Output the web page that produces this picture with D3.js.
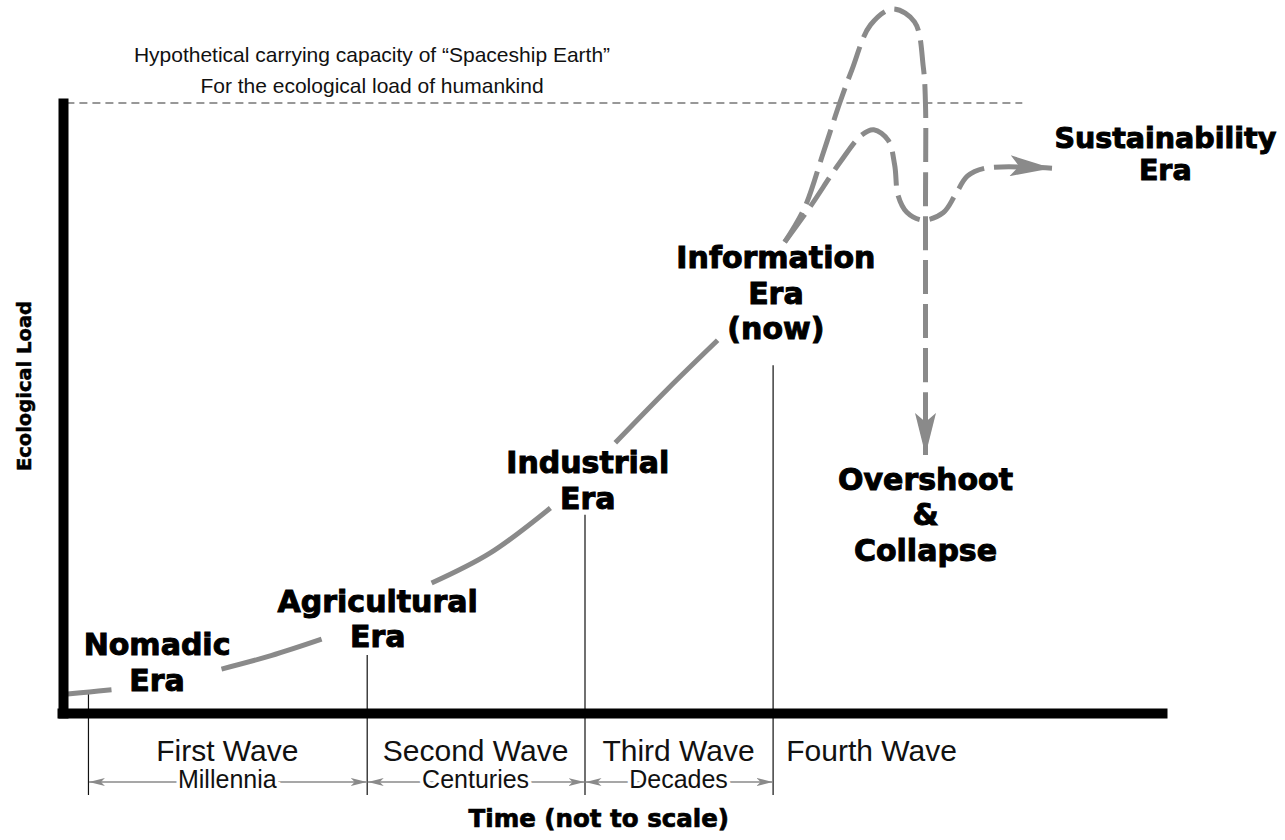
<!DOCTYPE html>
<html>
<head>
<meta charset="utf-8">
<script src="https://cdn.jsdelivr.net/npm/d3@7"></script>
<style>
  body { margin: 0; background: #fff; }
</style>
</head>
<body>
<div class="canvas"></div>
<script>
// time runs 0..100 (not to scale), ecological load 0..100 (100 = carrying capacity)
const capacity = 100;
const capacityEnd = 87.3;

// solid growth curve, broken where the era labels sit
const nomadicSeg = [[0.5, 3.1], [2.5, 3.45], [4.5, 3.8]];
const agriSeg = [[14.5, 7.2], [19, 9.4], [23.6, 12.1]];
const industrialSeg = [[33.6, 21.3], [38.9, 26.2], [44.4, 33.6]];
const infoSeg = [[50.3, 44.3], [55, 53], [59.6, 61.1]];

// dashed futures
const overshootPath = [[65.7, 77.2], [67.5, 82.8], [69.2, 91.8], [70.7, 100], [71.8, 105.4],
  [73.5, 112.8], [75.5, 115.4], [77.5, 113.3], [78.3, 105.9], [78.5, 99.7],
  [78.5, 84.1], [78.5, 67.7], [78.5, 42.3]];
const sustainPath = [[65.7, 77.2], [68, 82.95], [70.7, 90.2], [72.7, 94.75], [73.8, 95.6],
  [75.1, 93.9], [75.7, 89.8], [76, 84.9], [76.8, 82.1], [78.3, 80.8], [80.1, 82],
  [81.2, 84.9], [82.3, 88], [83.9, 89.3], [90, 89.3]];

// wave boundaries (time) and where each divider meets the curve (load)
const waveBounds = [2.36, 27.7, 47.5, 64.6, 82.6];
const dividerTops = [3.6, 9.5, 32.5, 57];
const waveNames = ['First Wave', 'Second Wave', 'Third Wave', 'Fourth Wave'];
const waveSpans = ['Millennia', 'Centuries', 'Decades'];

// era labels: centre (time), first baseline (load)
const eraNames = [['Nomadic', 'Era'], ['Agricultural', 'Era'], ['Industrial', 'Era'],
  ['Information', 'Era', '(now)'], ['Overshoot', '&', 'Collapse'], ['Sustainability', 'Era']];
const eraX = [8.64, 28.7, 47.8, 64.9, 78.5, 100.3];
const eraY = [9.5, 16.6, 39.3, 72.95, 36.6, 92.6];

const titleLines = ['Hypothetical carrying capacity of \u201cSpaceship Earth\u201d',
  'For the ecological load of humankind'];

const width = 1285, height = 840;
const grey = '#8a8a8a';

const svg = d3.select('.canvas')
  .append('svg')
  .attr('width', width)
  .attr('height', height);

const x = d3.scaleLinear().domain([0, 100]).range([62, 1162]);
const y = d3.scaleLinear().domain([0, 100]).range([713, 103]);

const defs = svg.append('defs');
defs.append('marker')
  .attr('id', 'bigArrow')
  .attr('markerUnits', 'userSpaceOnUse')
  .attr('viewBox', '0 0 42 21')
  .attr('refX', 42).attr('refY', 10.5)
  .attr('markerWidth', 42).attr('markerHeight', 21)
  .attr('orient', 'auto')
  .append('path')
  .attr('d', 'M0,0 L42,10.5 L0,21 L9,10.5 Z')
  .attr('fill', grey);
defs.append('marker')
  .attr('id', 'smallArrow')
  .attr('markerUnits', 'userSpaceOnUse')
  .attr('viewBox', '0 0 16 8')
  .attr('refX', 16).attr('refY', 4)
  .attr('markerWidth', 16).attr('markerHeight', 8)
  .attr('orient', 'auto-start-reverse')
  .append('path')
  .attr('d', 'M0,0 L16,4 L0,8 L4,4 Z')
  .attr('fill', grey);

// title
svg.append('g').selectAll('text')
  .data(titleLines)
  .enter().append('text')
  .attr('x', 372)
  .attr('y', (d, i) => 62 + i * 31)
  .attr('text-anchor', 'middle')
  .attr('font-family', 'Liberation Sans, Arial, sans-serif')
  .attr('font-size', 21)
  .attr('fill', '#111')
  .text(d => d);

// carrying capacity line
svg.append('line')
  .attr('x1', x(0.4)).attr('x2', x(capacityEnd))
  .attr('y1', y(capacity)).attr('y2', y(capacity))
  .attr('stroke', '#333')
  .attr('stroke-width', 1.2)
  .attr('stroke-dasharray', '8,5');

// wave dividers
svg.append('g').selectAll('line')
  .data(dividerTops)
  .enter().append('line')
  .attr('x1', (d, i) => x(waveBounds[i]) + 0.5)
  .attr('x2', (d, i) => x(waveBounds[i]) + 0.5)
  .attr('y1', d => y(d))
  .attr('y2', y(0) + 82)
  .attr('stroke', '#111')
  .attr('stroke-width', 1.2);

// span arrows
svg.append('g').selectAll('line')
  .data(waveSpans)
  .enter().append('line')
  .attr('x1', (d, i) => x(waveBounds[i]) + 1)
  .attr('x2', (d, i) => x(waveBounds[i + 1]))
  .attr('y1', y(0) + 69)
  .attr('y2', y(0) + 69)
  .attr('stroke', grey)
  .attr('stroke-width', 1.5)
  .attr('marker-start', 'url(#smallArrow)')
  .attr('marker-end', 'url(#smallArrow)');

svg.append('g').selectAll('text')
  .data(waveSpans)
  .enter().append('text')
  .attr('x', (d, i) => (x(waveBounds[i]) + x(waveBounds[i + 1])) / 2)
  .attr('y', y(0) + 75)
  .attr('text-anchor', 'middle')
  .attr('font-family', 'Liberation Sans, Arial, sans-serif')
  .attr('font-size', 25)
  .attr('fill', '#111')
  .attr('stroke', '#fff')
  .attr('stroke-width', 7)
  .attr('paint-order', 'stroke')
  .text(d => d);

svg.append('g').selectAll('text')
  .data(waveNames)
  .enter().append('text')
  .attr('x', (d, i) => (x(waveBounds[i]) + x(waveBounds[i + 1])) / 2)
  .attr('y', y(0) + 48)
  .attr('text-anchor', 'middle')
  .attr('font-family', 'Liberation Sans, Arial, sans-serif')
  .attr('font-size', 30)
  .attr('fill', '#111')
  .text(d => d);

// growth curve
const line = d3.line()
  .x(d => x(d[0]))
  .y(d => y(d[1]))
  .curve(d3.curveCatmullRom.alpha(0.5));

svg.append('g').selectAll('path')
  .data([nomadicSeg, agriSeg, industrialSeg, infoSeg])
  .enter().append('path')
  .attr('d', line)
  .attr('fill', 'none')
  .attr('stroke', grey)
  .attr('stroke-width', 5);

// futures
svg.append('g').selectAll('path')
  .data([overshootPath, sustainPath])
  .enter().append('path')
  .attr('d', line)
  .attr('fill', 'none')
  .attr('stroke', grey)
  .attr('stroke-width', 5)
  .attr('stroke-dasharray', '34,10')
  .attr('marker-end', 'url(#bigArrow)');

// axes
const yAxis = d3.axisLeft(y).tickValues([]).tickSizeOuter(0);
const xAxis = d3.axisBottom(x).tickValues([]).tickSizeOuter(0);

svg.append('g')
  .attr('transform', 'translate(' + (x(0) + 1) + ',0)')
  .call(yAxis)
  .call(g => g.select('.domain').attr('stroke', '#000').attr('stroke-width', 10).attr('stroke-linecap', 'square'));

svg.append('g')
  .attr('transform', 'translate(0,' + y(0) + ')')
  .call(xAxis)
  .call(g => g.select('.domain').attr('stroke', '#000').attr('stroke-width', 10).attr('stroke-linecap', 'square'));

// era labels
const eras = svg.append('g').selectAll('text')
  .data(eraNames)
  .enter().append('text')
  .attr('text-anchor', 'middle')
  .attr('font-family', 'DejaVu Sans, sans-serif')
  .attr('font-weight', 'bold')
  .attr('font-size', (d, i) => i === 5 ? 28.5 : 30)
  .attr('fill', '#000')
  .attr('stroke', '#000')
  .attr('stroke-width', 1);

eras.selectAll('tspan')
  .data((d, i) => d.map(t => ({t: t, i: i})))
  .enter().append('tspan')
  .attr('x', d => x(eraX[d.i]))
  .attr('y', (d, j) => y(eraY[d.i]) + j * (d.i === 5 ? 32 : 35.5))
  .text(d => d.t);

// axis titles
svg.append('text')
  .attr('x', x(48.8))
  .attr('y', y(0) + 114)
  .attr('text-anchor', 'middle')
  .attr('font-family', 'DejaVu Sans, sans-serif')
  .attr('font-weight', 'bold')
  .attr('font-size', 24.5)
  .attr('stroke', '#000')
  .attr('stroke-width', 0.7)
  .text('Time (not to scale)');

svg.append('text')
  .attr('transform', 'translate(31,' + y(53.6) + ') rotate(-90)')
  .attr('text-anchor', 'middle')
  .attr('font-family', 'DejaVu Sans, sans-serif')
  .attr('font-weight', 'bold')
  .attr('font-size', 19.5)
  .attr('stroke', '#000')
  .attr('stroke-width', 0.5)
  .text('Ecological Load');
</script>
</body>
</html>
